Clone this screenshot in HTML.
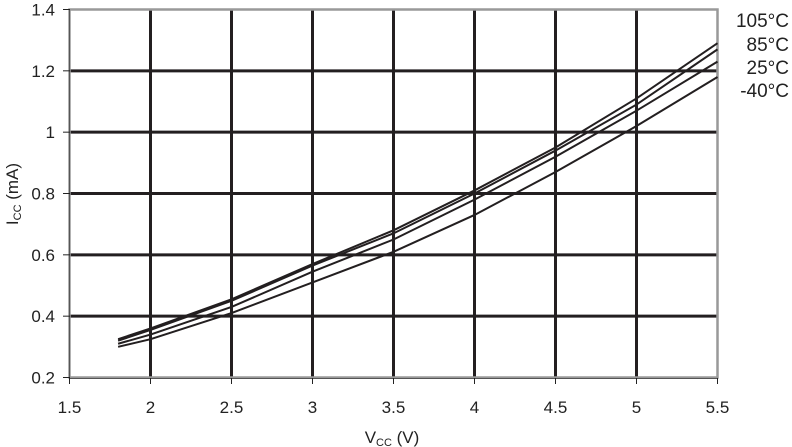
<!DOCTYPE html><html><head><style>body{margin:0;background:#fff}svg{display:block}text{font-family:"Liberation Sans",sans-serif;fill:#222}</style></head><body>
<svg id="s" width="792" height="447" viewBox="0 0 792 447"></svg>
<script>
const s=document.getElementById('s');let h='';
const X=v=>69.5+(v-1.5)*162, Y=v=>377.5-(v-0.2)*306.67;
for(let v=2;v<=5.01;v+=0.5)h+=`<line x1="${X(v)}" y1="9.5" x2="${X(v)}" y2="377.5" stroke="#231f20" stroke-width="3"/>`;
for(let v=0.4;v<=1.21;v+=0.2)h+=`<line x1="69.5" y1="${Y(v)}" x2="717.5" y2="${Y(v)}" stroke="#231f20" stroke-width="3"/>`;
h+=`<rect x="69.5" y="9.5" width="648" height="368" fill="none" stroke="#999" stroke-width="2.5"/>`;
h+=`<line x1="69.5" y1="9" x2="69.5" y2="378" stroke="#555" stroke-width="1"/><line x1="69" y1="378.5" x2="718" y2="378.5" stroke="#555" stroke-width="1"/>`;
[1.5,2,2.5,3,3.5,4,4.5,5,5.5].forEach(v=>{h+=`<line x1="${X(v)}" y1="378" x2="${X(v)}" y2="384" stroke="#222"/><text x="${X(v)}" y="413" font-size="17" text-anchor="middle">${v}</text>`});
[0.2,0.4,0.6,0.8,1,1.2,1.4].forEach(v=>{h+=`<line x1="63" y1="${Y(v)}" x2="70" y2="${Y(v)}" stroke="#222"/><text x="55" y="${Y(v)+6}" font-size="17" text-anchor="end">${v}</text>`});
const xs=[1.8,2,2.5,3,3.5,4,4.5,5,5.5];
const d=[[0.325,0.36,0.455,0.57,0.68,0.81,0.95,1.11,1.29],[0.32,0.355,0.45,0.565,0.67,0.80,0.94,1.09,1.27],[0.31,0.34,0.43,0.545,0.65,0.78,0.92,1.07,1.23],[0.30,0.325,0.41,0.51,0.61,0.73,0.87,1.02,1.18]];
d.forEach(r=>{h+=`<polyline fill="none" stroke="#231f20" stroke-width="2" points="${r.map((v,i)=>X(xs[i])+','+Y(v)).join(' ')}"/>`});
[['105°C',27],['85°C',51],['25°C',74],['-40°C',97]].forEach(([t,y])=>h+=`<text x="789" y="${y}" font-size="19" text-anchor="end">${t}</text>`);
h+=`<text x="392" y="443" font-size="17" text-anchor="middle">V<tspan font-size="11" dy="3">CC</tspan><tspan dy="-3"> (V)</tspan></text>`;
h+=`<text transform="translate(18,194) rotate(-90)" font-size="17" text-anchor="middle">I<tspan font-size="11" dy="3">CC</tspan><tspan dy="-3"> (mA)</tspan></text>`;
s.innerHTML=h;
</script></body></html>
